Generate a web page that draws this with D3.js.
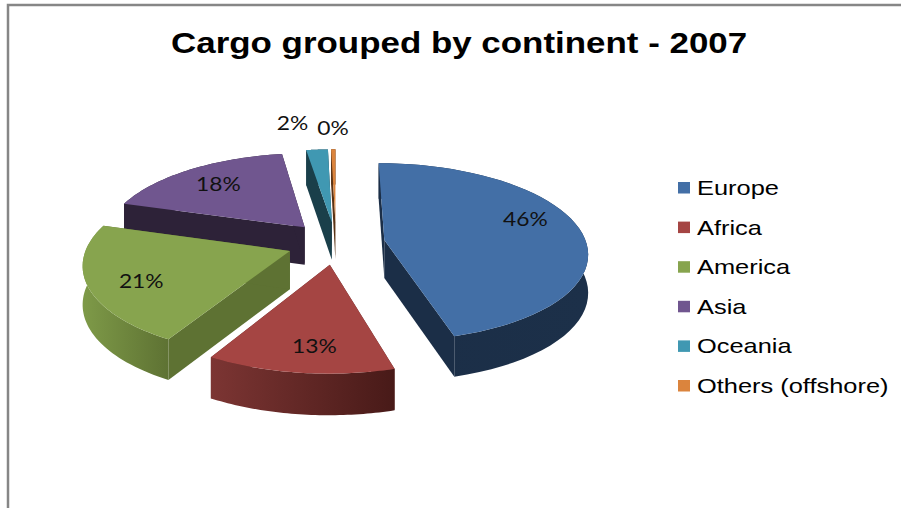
<!DOCTYPE html>
<html><head><meta charset="utf-8">
<script src="https://cdn.jsdelivr.net/npm/d3@7"></script>
<style>html,body{margin:0;padding:0;background:#fff}svg{display:block}</style>
</head><body><svg id="c" width="901" height="508"></svg>
<script>
const categories = ["Europe","Africa","America","Asia","Oceania","Others (offshore)"];
const shares = [45.6,12.7,21.4,17.9,2.0,0.4];
const titleText = "Cargo grouped by continent - 2007";
const topColors = ["#436FA6","#A54543","#87A44E","#70568F","#4098B2","#DB843D"];
const innerColors = ["#1B2E47","#5E2A28","#5E7233","#2D2238","#1A3F4A","#5A3315"];
const gradLeft = ["#1B2E47","#7C3533","#7E9A48","#2D2238","#1A3F4A","#5A3315"];
const gradRight = ["#1C3049","#481A18","#5E7233","#2D2238","#1A3F4A","#5A3315"];
const labelFraction = [0.69,0.76,0.72,0.68,1.2,1.2];
const labelNudgeX = [6,7,-5,-6,-22,0];
const labelNudgeY = [-12,3,6,-2,-13,-8];

const W=901,H=508, cx=336, cy=243, R=202, explode=49, tilt=0.435, persp=0.00066, depth=38;
const svg=d3.select("#c");

function scaledText(sel,x,y,sx){sel.attr("transform",`translate(${x},${y}) scale(${sx},1)`);return sel;}

svg.append("path").attr("d",`M8 ${H}V5H${W}`).attr("fill","none").attr("stroke","#868686").attr("stroke-width",2.5);

scaledText(svg.append("text").text(titleText),171,53,1.164)
  .attr("font-family","Liberation Sans").attr("font-weight","bold").attr("font-size",30).attr("fill","#000");

const pie=d3.pie().sort(null).value(d=>d.v)(shares.map((v,i)=>({v,i})));
const total=d3.sum(shares);

function proj(x,y,z){const s=1/(1-persp*y);return [cx+s*x, cy+s*tilt*y+Math.sqrt(s)*z*depth];}
const line=d3.line();
const defs=svg.append("defs");

const slices=pie.map(p=>{
  const mid=(p.startAngle+p.endAngle)/2;
  const ox=explode*Math.sin(mid), oy=-explode*Math.cos(mid);
  const steps=d3.range(0,1.0001,1/48).map(t=>p.startAngle+t*(p.endAngle-p.startAngle));
  const arc=steps.map(a=>[ox+R*Math.sin(a),oy-R*Math.cos(a)]);
  return {p,mid,ox,oy,arc,i:p.data.i};
});

const order=[3,4,5,0,2,1];
const g=svg.append("g");
order.forEach(k=>{
  const s=slices[k], i=s.i;
  const top=z=>s.arc.map(a=>proj(a[0],a[1],z));
  const a0=proj(s.ox,s.oy,0), a1=proj(s.ox,s.oy,1);
  const t=top(0), b=top(1);
  const gid="grad"+i, xs=t.map(d=>d[0]);
  const lg=defs.append("linearGradient").attr("id",gid).attr("gradientUnits","userSpaceOnUse")
    .attr("x1",d3.min(xs)).attr("x2",d3.max(xs)).attr("y1",0).attr("y2",0);
  lg.append("stop").attr("offset",0).attr("stop-color",gradLeft[i]);
  lg.append("stop").attr("offset",1).attr("stop-color",gradRight[i]);
  const e=t.length-1;
  g.append("path").attr("d",line([a0,t[0],b[0],a1])+"Z").attr("fill",innerColors[i]);
  g.append("path").attr("d",line([a0,t[e],b[e],a1])+"Z").attr("fill",innerColors[i]);
  g.append("path").attr("d",line(t.concat(b.slice().reverse()))+"Z").attr("fill",`url(#${gid})`);
  g.append("path").attr("d",line([a0].concat(t))+"Z").attr("fill",topColors[i]);
});

slices.forEach(s=>{
  const f=labelFraction[s.i]*R;
  const q=proj(s.ox+f*Math.sin(s.mid),s.oy-f*Math.cos(s.mid),0);
  const lab=Math.round(shares[s.i]/total*100)+"%";
  scaledText(svg.append("text").text(lab),q[0]+labelNudgeX[s.i],q[1]+6+labelNudgeY[s.i],1.2)
    .attr("font-family","Lato").attr("font-size",19).attr("text-anchor","middle").attr("fill","#111");
});

const legendY=d3.scalePoint().domain(categories).range([188,386]);
const lg=svg.append("g").selectAll("g").data(categories).join("g");
lg.append("rect").attr("x",678).attr("y",d=>legendY(d)-6).attr("width",12).attr("height",11.5)
  .attr("fill",(d,i)=>topColors[i]);
lg.append("text").text(d=>d).attr("font-family","Liberation Sans").attr("font-size",21).attr("fill","#000")
  .attr("transform",d=>`translate(697,${legendY(d)+7}) scale(1.21,1)`);
</script></body></html>
